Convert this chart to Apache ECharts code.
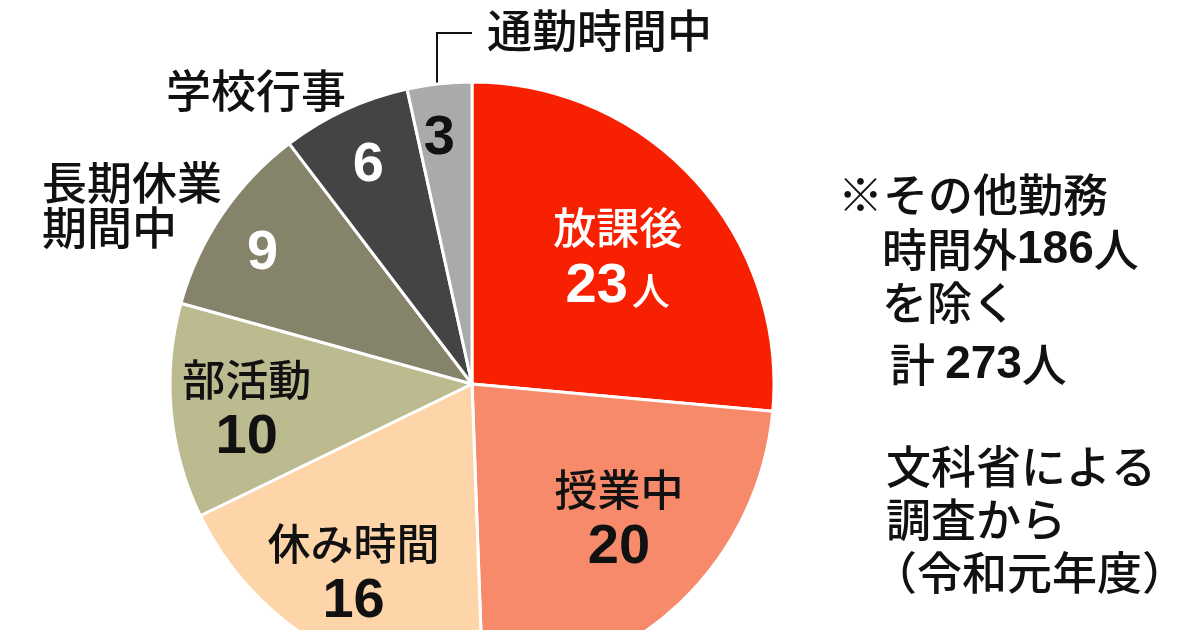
<!DOCTYPE html>
<html><head><meta charset="utf-8">
<script src="https://cdn.jsdelivr.net/npm/echarts@6/dist/echarts.min.js"></script>
<style>html,body{margin:0;padding:0;background:#fff}#c{width:1200px;height:630px}</style>
</head><body><div id="c"></div>
<script>
const categories = ['放課後','授業中','休み時間','部活動','長期休業期間中','学校行事','通勤時間中'];
const values = [23, 20, 16, 10, 9, 6, 3];
const showName = [true, true, true, true, false, false, false];
const unitText = ['人', '', '', '', '', '', ''];
const noteLines = ['※その他勤務', '時間外{b|186}人', 'を除く', '計 {b|273}人', '文科省による', '調査から', '（令和元年度）'];

const colors = ['#f72000', '#f68a6b', '#fdd5a9', '#bcba8f', '#85836a', '#444444', '#aaaaaa'];
const labelColors = ['#fff', '#111', '#111', '#111', '#fff', '#fff', '#111'];
const labelOffsets = [[32,-22],[41,24],[-39,58],[-72,12],[-82,-44],[-39,-79],[-16,-92]];
const noteX = [838, 882, 882, 890, 886, 886, 872];
const noteY = [195, 250, 303, 365, 467, 520, 573];

const JP = '"Noto Sans CJK JP","Noto Sans",sans-serif';
const NUM = '"Liberation Sans",Arial,sans-serif';
const JPW = 500;

const data = categories.map((name, i) => {
  const c = labelColors[i];
  let fmt = showName[i] ? '{n|' + name + '}\n{v|' + values[i] + '}' : '{v|' + values[i] + '}';
  if (unitText[i]) fmt += '{u|' + unitText[i] + '}';
  return {
    name, value: values[i],
    itemStyle: { color: colors[i] },
    label: {
      show: true, position: 'inside', offset: labelOffsets[i], formatter: fmt,
      rich: {
        n: { fontFamily: JP, fontSize: 43, fontWeight: JPW, color: c, lineHeight: 56 },
        v: { fontFamily: NUM, fontSize: 56, fontWeight: 'bold', color: c, lineHeight: 60 },
        u: { fontFamily: JP, fontSize: 38, fontWeight: JPW, color: c, lineHeight: 60, padding: [8,0,0,4] }
      }
    }
  };
});

const chart = echarts.init(document.getElementById('c'), null, { renderer: 'canvas' });
const noteRich = { b: { fontFamily: NUM, fontSize: 46, fontWeight: 'bold', fill: '#111', color: '#111' } };
const noteGraphics = noteLines.map((t, i) => ({
  type: 'text', x: noteX[i], y: noteY[i],
  style: { text: t, fontFamily: JP, fontSize: 45, fontWeight: JPW, fill: '#111', verticalAlign: 'middle', rich: noteRich }
}));

const txt = (t, x, y, lh) => ({ type: 'text', x, y,
  style: { text: t, fontFamily: JP, fontSize: 45, fontWeight: JPW, lineHeight: lh || 45, fill: '#111', verticalAlign: 'middle' } });

chart.setOption({
  animation: false,
  backgroundColor: '#fff',
  series: [{
    type: 'pie',
    center: [472, 384],
    radius: [0, 302],
    startAngle: 90,
    clockwise: true,
    avoidLabelOverlap: false,
    labelLine: { show: false },
    itemStyle: { borderColor: '#fff', borderWidth: 3 },
    emphasis: { disabled: true },
    data
  }],
  graphic: [
    txt('長期休業\n期間中', 42, 205, 45),
    txt('学校行事', 166, 91),
    txt('通勤時間中', 487, 31),
    { type: 'polyline', shape: { points: [[437, 86], [437, 33], [472, 33]] }, style: { stroke: '#111', lineWidth: 2, fill: null } }
  ].concat(noteGraphics)
});
</script></body></html>
